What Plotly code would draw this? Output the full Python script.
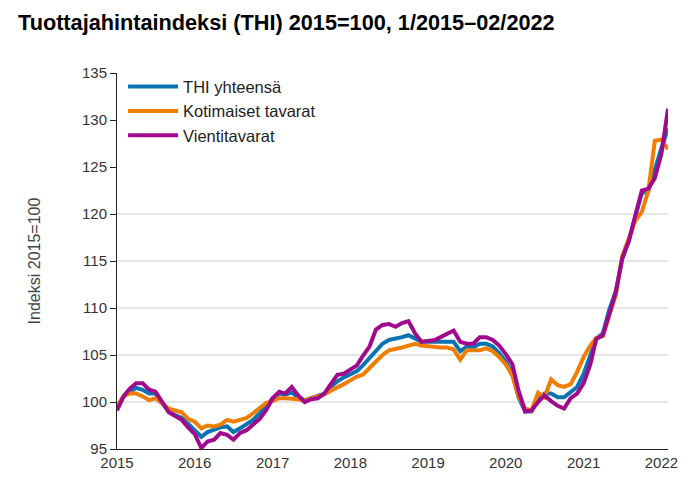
import pandas as pd
import plotly.graph_objects as go

# Monthly index values, 1/2015 - 02/2022 (2015=100)
months = pd.date_range("2015-01-01", "2022-02-01", freq="MS")

thi_yhteensa = [
    99.4, 100.6, 101.1, 101.5, 101.3, 100.9, 100.9, 100.0, 99.0, 98.6, 98.3, 97.7,   # 2015
    97.0, 96.3, 96.8, 97.1, 97.3, 97.4, 96.8, 97.2, 97.6, 98.1, 98.8, 99.5,          # 2016
    100.4, 100.9, 100.8, 101.0, 100.5, 100.2, 100.4, 100.6, 100.9, 101.6, 102.2, 102.6,  # 2017
    103.0, 103.3, 103.9, 104.7, 105.5, 106.2, 106.6, 106.7, 106.9, 107.1, 106.8, 106.4,  # 2018
    106.4, 106.4, 106.4, 106.4, 106.4, 105.4, 105.9, 105.8, 106.2, 106.2, 105.9, 105.2,  # 2019
    104.3, 103.0, 100.5, 99.0, 99.0, 100.3, 100.9, 100.9, 100.5, 100.5, 101.0, 101.6,    # 2020
    103.0, 104.8, 106.7, 107.3, 109.8, 111.8, 115.2, 117.2, 119.8, 122.2, 122.5, 124.8,  # 2021
    127.0, 129.1,                                                                        # 2022
]

kotimaiset_tavarat = [
    99.6, 100.6, 100.9, 100.9, 100.6, 100.2, 100.4, 99.8, 99.3, 99.1, 98.9, 98.2,
    97.9, 97.2, 97.5, 97.4, 97.6, 98.1, 97.9, 98.1, 98.3, 98.8, 99.3, 99.9,
    100.1, 100.4, 100.4, 100.4, 100.3, 100.2, 100.4, 100.5, 100.8, 101.2, 101.5, 101.9,
    102.3, 102.7, 102.9, 103.6, 104.3, 105.0, 105.5, 105.6, 105.8, 106.0, 106.2, 106.0,
    105.9, 105.9, 105.8, 105.8, 105.6, 104.5, 105.5, 105.5, 105.5, 105.7, 105.4, 104.8,
    104.0, 102.8, 100.6, 99.3, 99.1, 101.0, 100.5, 102.4, 101.8, 101.6, 101.9, 103.2,
    104.8, 106.0, 106.8, 107.0, 109.2, 111.4, 115.5, 117.3, 119.3, 120.2, 122.5, 127.8,
    127.9, 126.9,
]

vientitavarat = [
    99.1, 100.6, 101.4, 102.0, 102.0, 101.3, 101.1, 99.9, 98.9, 98.5, 98.1, 97.3,
    96.6, 95.1, 95.8, 96.0, 96.7, 96.5, 96.0, 96.7, 97.0, 97.6, 98.2, 99.1,
    100.4, 101.1, 100.9, 101.6, 100.7, 100.0, 100.3, 100.4, 100.9, 101.9, 102.9, 103.0,
    103.5, 103.9, 104.9, 105.9, 107.7, 108.2, 108.3, 108.0, 108.4, 108.6, 107.3, 106.4,
    106.5, 106.6, 106.9, 107.3, 107.6, 106.4, 106.2, 106.2, 106.9, 106.9, 106.6, 106.0,
    105.1, 104.0, 101.2, 99.0, 99.1, 100.0, 100.7, 100.1, 99.6, 99.3, 100.4, 100.9,
    102.0, 104.0, 106.7, 107.1, 109.5, 111.7, 115.3, 117.1, 119.9, 122.5, 122.7, 123.8,
    126.4, 131.2,
]

series_names = ["THI yhteensä", "Kotimaiset tavarat", "Vientitavarat"]
series_values = [thi_yhteensa, kotimaiset_tavarat, vientitavarat]
series_colors = ["#0a74b2", "#f07d00", "#a0098e"]

y_ticks = [95, 100, 105, 110, 115, 120, 125, 130, 135]
grid_values = [100, 105, 110, 115, 120]
x_ticks = ["2015-01-01", "2016-01-01", "2017-01-01", "2018-01-01",
           "2019-01-01", "2020-01-01", "2021-01-01", "2022-01-01"]
x_labels = ["2015", "2016", "2017", "2018", "2019", "2020", "2021", "2022"]

FONT = "Liberation Sans, Arial, sans-serif"
W, H = 682, 489  # page adds an 8px body margin

fig = go.Figure()
for name, vals, col in zip(series_names, series_values, series_colors):
    fig.add_trace(go.Scatter(
        x=months, y=vals, name=name, mode="lines",
        line=dict(color=col, width=4),
    ))

shapes = [
    dict(type="line", xref="paper", x0=0, x1=1, yref="y", y0=v, y1=v,
         line=dict(color="#cccccc", width=1), layer="below")
    for v in grid_values
]

fig.update_layout(
    width=W, height=H,
    margin=dict(l=109, r=22, t=65, b=48),
    paper_bgcolor="white", plot_bgcolor="white",
    font=dict(family=FONT, size=15, color="#222222"),
    title=dict(
        text="<b>Tuottajahintaindeksi (THI) 2015=100, 1/2015–02/2022</b>",
        x=10 / W, xanchor="left", xref="container",
        y=1 - 7 / H, yanchor="top", yref="container",
        font=dict(family=FONT, size=21.7, color="#000000"),
    ),
    showlegend=True,
    legend=dict(
        x=0.011, y=1.01, xanchor="left", yanchor="top",
        bgcolor="rgba(0,0,0,0)", font=dict(size=16.5, color="#222222"),
        tracegroupgap=0, itemwidth=50,
    ),
    shapes=shapes,
    xaxis=dict(
        range=["2015-01-01", "2022-02-01"],
        tickvals=x_ticks, ticktext=x_labels,
        showgrid=False, zeroline=False,
        showline=True, linecolor="#222222", linewidth=1,
        ticks="", tickfont=dict(size=15, color="#333333"),
    ),
    yaxis=dict(
        range=[95, 135], tickvals=y_ticks,
        showgrid=False, zeroline=False,
        showline=True, linecolor="#222222", linewidth=1,
        ticks="outside", ticklen=6, tickcolor="#222222",
        tickfont=dict(size=15, color="#333333"),
        title=dict(text="Indeksi 2015=100", font=dict(size=16, color="#444444"), standoff=37),
    ),
)

fig.write_html("out.html")
